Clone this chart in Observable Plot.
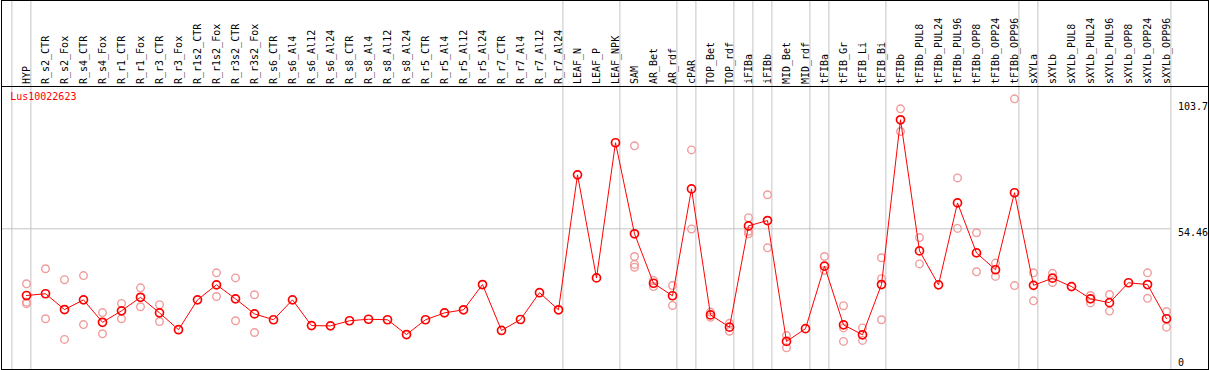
<!DOCTYPE html>
<html>
<head>
<meta charset="utf-8">
<script src="https://cdn.jsdelivr.net/npm/d3@7"></script>
<script src="https://cdn.jsdelivr.net/npm/@observablehq/plot@0.6"></script>
<style>
  html, body { margin: 0; padding: 0; background: #fff; }
  #chart svg { display: block; }
</style>
</head>
<body>
<div id="chart"></div>
<script>
const geneName = "Lus10022623";

const categories = [
  "HYP",
  "R_s2_CTR","R_s2_Fox","R_s4_CTR","R_s4_Fox","R_r1_CTR","R_r1_Fox","R_r3_CTR","R_r3_Fox",
  "R_r1s2_CTR","R_r1s2_Fox","R_r3s2_CTR","R_r3s2_Fox",
  "R_s6_CTR","R_s6_Al4","R_s6_Al12","R_s6_Al24","R_s8_CTR","R_s8_Al4","R_s8_Al12","R_s8_Al24",
  "R_r5_CTR","R_r5_Al4","R_r5_Al12","R_r5_Al24","R_r7_CTR","R_r7_Al4","R_r7_Al12","R_r7_Al24",
  "LEAF_N","LEAF_P","LEAF_NPK",
  "SAM","AR_Bet","AR_rdf",
  "cPAR",
  "TOP_Bet","TOP_rdf",
  "iFIBa",
  "iFIBb",
  "MID_Bet","MID_rdf",
  "tFIBa",
  "tFIB_Gr","tFIB_Li","tFIB_Bi",
  "tFIBb","tFIBb_PUL8","tFIBb_PUL24","tFIBb_PUL96","tFIBb_OPP8","tFIBb_OPP24","tFIBb_OPP96",
  "sXYLa",
  "sXYLb","sXYLb_PUL8","sXYLb_PUL24","sXYLb_PUL96","sXYLb_OPP8","sXYLb_OPP24","sXYLb_OPP96"
];

// mean expression per category
const means = [
  28.3,
  29.0, 22.8, 26.6, 17.8, 22.3, 27.6, 21.5, 14.9,
  26.6, 32.5, 27.0, 21.1,
  18.8, 26.6, 16.5, 16.4, 18.4, 19.0, 18.8, 13.0,
  18.8, 21.5, 22.7, 32.6, 14.6, 18.9, 29.4, 22.7,
  75.6, 35.2, 88.2,
  52.5, 33.1, 28.2,
  70.1,
  20.7, 15.9,
  55.6,
  57.7,
  10.3, 15.3,
  39.8,
  16.8, 12.9, 32.6,
  97.2, 45.8, 32.5, 64.6, 45.0, 38.4, 68.6,
  32.3,
  35.1, 31.8, 27.0, 25.5, 33.3, 32.6, 19.2
];

// visible replicate values (null where hidden under the mean marker)
const repHigh = [
  32.9,
  38.8, 34.5, 36.1, 21.6, 25.2, 31.3, 24.7, null,
  null, 37.2, 35.2, 28.6,
  null, null, null, null, null, null, null, null,
  null, null, null, null, null, null, null, null,
  null, null, null,
  87.0, 34.2, 32.2,
  85.4,
  21.8, 17.4,
  58.8,
  67.8,
  12.6, null,
  43.6,
  24.3, 15.6, 43.1,
  101.5, 51.0, null, 74.4, 52.9, 41.0, 105.4,
  37.2,
  37.0, null, 28.3, 28.7, null, 37.2, 22.0
];

const repLow = [
  25.1,
  19.2, 11.1, 16.9, 13.3, 19.2, 23.9, 18.1, null,
  null, 27.9, 18.4, 13.8,
  null, null, null, null, null, null, null, null,
  null, null, null, null, null, null, null, null,
  null, null, null,
  39.4, 31.8, 24.4,
  54.4,
  19.8, 14.3,
  52.5,
  47.0,
  7.8, null,
  38.1,
  10.3, 10.7, 18.8,
  92.6, 40.7, null, 54.6, 37.6, 35.8, 32.2,
  26.2,
  33.4, null, 25.4, 22.2, null, 27.2, 15.9
];

const repMid = [
  25.7,
  null, null, null, null, null, null, null, null,
  null, null, null, null,
  null, null, null, null, null, null, null, null,
  null, null, null, null, null, null, null, null,
  null, null, null,
  43.6, null, null,
  null,
  null, null,
  53.5,
  null,
  null, null,
  null,
  15.6, null, 34.9,
  null, null, null, null, null, null, null,
  null,
  null, null, null, null, null, null, null
];

const repExtra = [
  null,
  null, null, null, null, null, null, null, null,
  null, null, null, null,
  null, null, null, null, null, null, null, null,
  null, null, null, null, null, null, null, null,
  null, null, null,
  40.5, null, null,
  null,
  null, null,
  null,
  null,
  null, null,
  null,
  null, null, null,
  null, null, null, null, null, null, null,
  null,
  null, null, null, null, null, null, null
];

// last category of each sample group (separators drawn after them)
const groupEnds = ["HYP","R_r7_Al24","LEAF_NPK","AR_rdf","cPAR","TOP_rdf","iFIBa","iFIBb",
  "MID_rdf","tFIBa","tFIB_Bi","tFIBb_OPP96","sXYLa","sXYLb_OPP96"];
const groupStarts = ["HYP"];

const yTicks = [103.7, 54.46];
const yTickLabels = ["103.7", "54.46"];
const yZero = [0];
const yZeroLabel = ["0"];
const gridValues = [54.46];

const meanData = categories.map((c, i) => ({cat: c, value: means[i]}));
const repData = [];
[repHigh, repLow, repMid, repExtra].forEach(arr => {
  arr.forEach((v, i) => { if (v != null) repData.push({cat: categories[i], value: v}); });
});

const RED = "#ff0000";
const PINK = "#f09c9c";
const GRID = "#c4c4c4";

const chart = Plot.plot({
  width: 1209,
  height: 370,
  marginTop: 86,
  marginBottom: 1,
  marginLeft: 1,
  marginRight: 1,
  style: {fontFamily: "'DejaVu Sans Mono', monospace", fontSize: "10px", background: "#fff"},
  x: {type: "point", domain: categories, padding: 0, insetLeft: 25.3, insetRight: 41.7, axis: null},
  y: {domain: [0, 103.7], insetTop: 16.7, insetBottom: 1.8, axis: null},
  marks: [
    Plot.ruleY(gridValues, {stroke: GRID, strokeWidth: 1, insetRight: 37.3}),
    Plot.ruleX(groupEnds, {x: d => d, stroke: GRID, strokeWidth: 1, dx: 4.4, insetTop: -86}),
    Plot.ruleX(groupStarts, {x: d => d, stroke: GRID, strokeWidth: 1, dx: -14.6, insetTop: -86}),
    Plot.frame({stroke: "#000", insetTop: -86}),
    Plot.frame({stroke: "#000"}),
    Plot.text(categories, {
      x: d => d, frameAnchor: "top", rotate: -90, textAnchor: "start",
      dy: -2.5, dx: -3.5, fill: "#000"
    }),
    Plot.text(yTicks, {
      y: d => d, text: (d, i) => yTickLabels[i], frameAnchor: "right",
      textAnchor: "start", lineAnchor: "top", dx: -30.5, fill: "#000"
    }),
    Plot.text(yZero, {
      y: d => d, text: (d, i) => yZeroLabel[i], frameAnchor: "right",
      textAnchor: "start", lineAnchor: "bottom", dx: -30.5, dy: -1.5, fill: "#000"
    }),
    Plot.text([geneName], {
      frameAnchor: "top-left", textAnchor: "start", lineAnchor: "top",
      dx: 8.7, dy: 6.5, fill: RED
    }),
    Plot.dot(repData, {x: "cat", y: "value", r: 3.8, stroke: PINK, strokeWidth: 1.4, fill: "none"}),
    Plot.line(meanData, {x: "cat", y: "value", stroke: RED, strokeWidth: 1, curve: "linear"}),
    Plot.dot(meanData, {x: "cat", y: "value", r: 4, stroke: RED, strokeWidth: 1.7, fill: "none"})
  ]
});

document.getElementById("chart").appendChild(chart);
</script>
</body>
</html>
